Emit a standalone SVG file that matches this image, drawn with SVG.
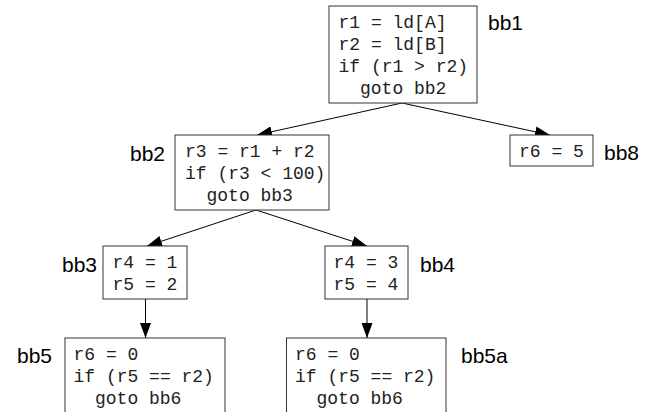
<svg xmlns="http://www.w3.org/2000/svg" width="647" height="412" viewBox="0 0 647 412">
  <style>
    .box { fill: #fff; stroke: #333; stroke-width: 1; }
    .code { font-family: "Liberation Mono", "Courier New", monospace; font-size: 18px; fill: #222; }
    .lbl { font-family: "Liberation Sans", Arial, sans-serif; font-size: 21px; fill: #000; }
    .edge { stroke: #000; stroke-width: 1; fill: none; marker-end: url(#arr); }
  </style>
  <defs>
    <marker id="arr" markerUnits="userSpaceOnUse" markerWidth="15" markerHeight="11" refX="15" refY="5.5" orient="auto">
      <path d="M0,0 L15,5.5 L0,11 z" fill="#000"/>
    </marker>
  </defs>
  <rect width="647" height="412" fill="#fff"/>

  <g id="connectors">
    <line class="edge" x1="402" y1="103" x2="257" y2="135"/>
    <line class="edge" x1="402" y1="103" x2="550" y2="135"/>
    <line class="edge" x1="256" y1="210" x2="147" y2="246"/>
    <line class="edge" x1="256" y1="210" x2="367" y2="246"/>
    <line class="edge" x1="145.5" y1="299" x2="145.5" y2="338"/>
    <line class="edge" x1="367" y1="299" x2="367" y2="338"/>
  </g>

  <g id="bb1">
    <rect class="box" x="329" y="6" width="148" height="97"/>
    <text class="code" x="338.5" y="28">r1 = ld[A]</text>
    <text class="code" x="338.5" y="50">r2 = ld[B]</text>
    <text class="code" x="338.5" y="72">if (r1 &gt; r2)</text>
    <text class="code" x="360" y="94">goto bb2</text>
    <text class="lbl" x="488" y="30">bb1</text>
  </g>

  <g id="bb8">
    <rect class="box" x="510" y="135" width="83" height="31"/>
    <text class="code" x="519" y="157">r6 = 5</text>
    <text class="lbl" x="604" y="160">bb8</text>
  </g>

  <g id="bb2">
    <rect class="box" x="175" y="135" width="154" height="75"/>
    <text class="code" x="185" y="157">r3 = r1 + r2</text>
    <text class="code" x="185" y="179">if (r3 &lt; 100)</text>
    <text class="code" x="206.5" y="201">goto bb3</text>
    <text class="lbl" x="165" y="161" text-anchor="end">bb2</text>
  </g>

  <g id="bb3">
    <rect class="box" x="103" y="246" width="84" height="53"/>
    <text class="code" x="112.5" y="268">r4 = 1</text>
    <text class="code" x="112.5" y="290">r5 = 2</text>
    <text class="lbl" x="97" y="272" text-anchor="end">bb3</text>
  </g>

  <g id="bb4">
    <rect class="box" x="325" y="246" width="83" height="53"/>
    <text class="code" x="333.5" y="268">r4 = 3</text>
    <text class="code" x="333.5" y="290">r5 = 4</text>
    <text class="lbl" x="420" y="272">bb4</text>
  </g>

  <g id="bb5">
    <rect class="box" x="65" y="338" width="160" height="90"/>
    <text class="code" x="73.5" y="360">r6 = 0</text>
    <text class="code" x="73.5" y="382">if (r5 == r2)</text>
    <text class="code" x="95" y="404">goto bb6</text>
    <text class="lbl" x="52" y="363" text-anchor="end">bb5</text>
  </g>

  <g id="bb5a">
    <rect class="box" x="286.5" y="338" width="159.5" height="90"/>
    <text class="code" x="295" y="360">r6 = 0</text>
    <text class="code" x="295" y="382">if (r5 == r2)</text>
    <text class="code" x="316.5" y="404">goto bb6</text>
    <text class="lbl" x="461" y="363">bb5a</text>
  </g>
</svg>
